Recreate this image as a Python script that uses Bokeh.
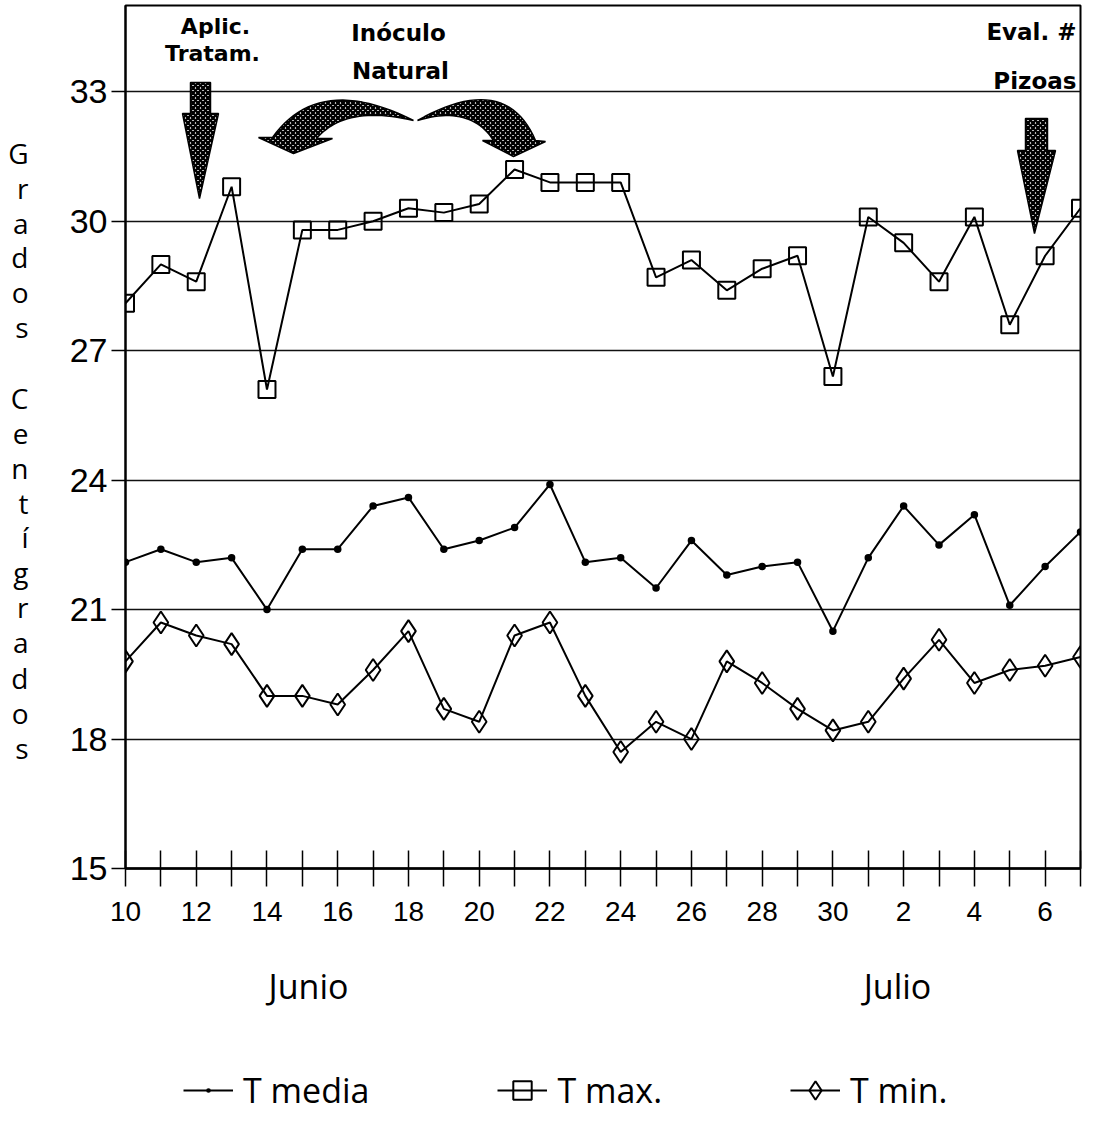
from bokeh.plotting import figure
from bokeh.models import FixedTicker, Label, Legend, LegendItem, Range1d, LinearAxis
from bokeh.layouts import column
from bokeh.embed import file_html
from bokeh.resources import INLINE

# ---------------- data ----------------
day_labels = ["10", "11", "12", "13", "14", "15", "16", "17", "18", "19", "20",
              "21", "22", "23", "24", "25", "26", "27", "28", "29", "30",
              "1", "2", "3", "4", "5", "6", "7"]
t_media = [22.1, 22.4, 22.1, 22.2, 21.0, 22.4, 22.4, 23.4, 23.6, 22.4, 22.6,
           22.9, 23.9, 22.1, 22.2, 21.5, 22.6, 21.8, 22.0, 22.1, 20.5,
           22.2, 23.4, 22.5, 23.2, 21.1, 22.0, 22.8]
t_max = [28.1, 29.0, 28.6, 30.8, 26.1, 29.8, 29.8, 30.0, 30.3, 30.2, 30.4,
         31.2, 30.9, 30.9, 30.9, 28.7, 29.1, 28.4, 28.9, 29.2, 26.4,
         30.1, 29.5, 28.6, 30.1, 27.6, 29.2, 30.3]
t_min = [19.8, 20.7, 20.4, 20.2, 19.0, 19.0, 18.8, 19.6, 20.5, 18.7, 18.4,
         20.4, 20.7, 19.0, 17.7, 18.4, 18.0, 19.8, 19.3, 18.7, 18.2,
         18.4, 19.4, 20.3, 19.3, 19.6, 19.7, 19.9]
y_ticks = [15, 18, 21, 24, 27, 30, 33]
month_labels = ["Junio", "Julio"]
legend_labels = ["T media", "T max.", "T min."]
y_title_words = ["Grados", "Centígrados"]

x = list(range(len(day_labels)))
n_last = len(day_labels) - 1
Y0, Y1 = 15, 35

# ---------------- main figure ----------------
W, H = 1086, 1020
FL, FR, FT, FB = 125.0, 1080.0, 5.0, 868.0   # frame edges in canvas pixels
p = figure(width=W, height=H, output_backend="svg", toolbar_location=None,
           x_range=Range1d(0, n_last), y_range=Range1d(Y0, Y1),
           min_border_left=int(FL), min_border_right=int(W - FR),
           min_border_top=int(FT), min_border_bottom=int(H - FB),
           background_fill_color="white")
p.outline_line_color = "black"
p.outline_line_width = 2

def dx(px):
    return (px - FL) / (FR - FL) * n_last
def dy(py):
    return Y1 - (py - FT) / (FB - FT) * (Y1 - Y0)

p.xgrid.visible = False
p.ygrid.ticker = FixedTicker(ticks=y_ticks[1:])
p.ygrid.grid_line_color = "#111111"
p.ygrid.grid_line_width = 1.5

p.yaxis.ticker = FixedTicker(ticks=y_ticks)
p.yaxis.major_tick_out = 14
p.yaxis.major_tick_in = 0
p.yaxis.minor_tick_out = 0
p.yaxis.minor_tick_in = 0
p.yaxis.major_tick_line_width = 1.5
p.yaxis.axis_line_width = 2
p.yaxis.major_label_standoff = 4
p.yaxis.major_label_text_font = "Liberation Sans"
p.yaxis.major_label_text_font_size = "34px"
p.yaxis.major_label_text_color = "black"

p.xaxis.ticker = FixedTicker(ticks=x)
p.xaxis.major_label_overrides = {i: (lab if i % 2 == 0 else "") for i, lab in enumerate(day_labels)}
p.xaxis.major_tick_in = 18
p.xaxis.major_tick_out = 18
p.xaxis.minor_tick_out = 0
p.xaxis.minor_tick_in = 0
p.xaxis.major_tick_line_width = 1.5
p.xaxis.axis_line_width = 2.5
p.xaxis.major_label_standoff = 15
p.xaxis.major_label_text_font = "Liberation Sans"
p.xaxis.major_label_text_font_size = "28px"
p.xaxis.major_label_text_color = "black"

# stacked-letter y title as an extra (line-less) left axis
letters, letter_py = [], []
py = 152
for word in y_title_words:
    for ch in word:
        letters.append(ch)
        letter_py.append(py)
        py += 35
    py += 35
letter_y = [round(dy(v), 3) for v in letter_py]
title_axis = LinearAxis(ticker=FixedTicker(ticks=letter_y),
                        major_label_overrides={yv: ch for yv, ch in zip(letter_y, letters)},
                        axis_line_alpha=0, major_tick_line_alpha=0, minor_tick_line_alpha=0,
                        major_tick_out=0, major_tick_in=0, minor_tick_out=0, minor_tick_in=0,
                        major_label_standoff=38, major_label_text_font="Open Sans",
                        major_label_text_font_size="28px", major_label_text_color="black")
p.add_layout(title_axis, "left")

# month labels as an extra (line-less) bottom axis
month_x = [round(dx(308), 3), round(dx(897), 3)]
month_axis = LinearAxis(ticker=FixedTicker(ticks=month_x),
                        major_label_overrides={mx: m for mx, m in zip(month_x, month_labels)},
                        axis_line_alpha=0, major_tick_line_alpha=0, minor_tick_line_alpha=0,
                        major_tick_out=0, major_tick_in=0, minor_tick_out=0, minor_tick_in=0,
                        major_label_standoff=39, major_label_text_font="Open Sans",
                        major_label_text_font_size="34px", major_label_text_color="black")
p.add_layout(month_axis, "below")

# series
p.line(x, t_media, line_color="black", line_width=2)
p.scatter(x, t_media, marker="dot", size=30, line_color="black", line_width=1)
p.line(x, t_max, line_color="black", line_width=2)
p.scatter(x, t_max, marker="square", size=17, fill_alpha=0, line_color="black", line_width=2)
p.line(x, t_min, line_color="black", line_width=2)
p.scatter(x, t_min, marker="diamond", size=22, fill_alpha=0, line_color="black", line_width=2)

# hatched arrows
def qbez(p0, c, p2, n=24):
    pts = []
    for i in range(n + 1):
        t = i / n
        a, b, d = (1 - t) ** 2, 2 * (1 - t) * t, t ** 2
        pts.append((a * p0[0] + b * c[0] + d * p2[0], a * p0[1] + b * c[1] + d * p2[1]))
    return pts

def add_arrow(pts):
    p.patch([dx(a) for a, _ in pts], [dy(b) for _, b in pts],
            fill_color="white", hatch_pattern="x", hatch_color="black",
            hatch_scale=5, hatch_weight=2.5, line_color="black", line_width=1.5)

add_arrow([(190, 82), (210, 82), (210, 113), (218, 113), (199, 198), (182, 113), (190, 113)])
add_arrow([(1025, 118), (1047, 118), (1047, 150), (1055, 150), (1034, 233), (1017, 150), (1025, 150)])
left = qbez((413, 120), (318, 72), (272, 137)) + [(258, 137), (293, 153), (332, 138)] + \
    qbez((316, 138), (345, 104), (413, 120))
right = qbez((417, 120), (505, 70), (535, 140)) + [(545, 141), (513, 156), (482, 140)] + \
    qbez((493, 140), (470, 104), (417, 120))
add_arrow(left)
add_arrow(right)

def lab(text, px, py, size, align="center"):
    p.add_layout(Label(x=dx(px), y=dy(py), text=text, text_align=align,
                       text_baseline="middle", text_font_size=size, text_font="DejaVu Sans",
                       text_font_style="bold", text_color="black"))

lab("Aplic.", 215, 26, "22px")
lab("Tratam.", 212, 53, "22px")
lab("Inóculo", 398, 32, "23px")
lab("Natural", 400, 70, "23px")
lab("Eval. #", 1076, 31, "23px", align="right")
lab("Pizoas", 1076, 80, "23px", align="right")

# ---------------- legend strip (own small figure; sample glyphs kept off-view) ----------------
LH = 93
q = figure(width=W, height=LH, output_backend="svg", toolbar_location=None,
           x_axis_type=None, y_axis_type=None,
           x_range=Range1d(-200, -199), y_range=Range1d(0, 1),
           min_border_left=int(FL), min_border_right=int(W - FR),
           min_border_top=0, min_border_bottom=0)
q.outline_line_color = None
q.grid.visible = False
g_med_l = q.line(x, t_media, line_color="black", line_width=2)
g_med_s = q.scatter(x, t_media, marker="dot", size=30, line_color="black", line_width=1)
g_max_l = q.line(x, t_max, line_color="black", line_width=2)
g_max_s = q.scatter(x, t_max, marker="square", size=17, fill_alpha=0, line_color="black", line_width=2)
g_min_l = q.line(x, t_min, line_color="black", line_width=2)
g_min_s = q.scatter(x, t_min, marker="diamond", size=22, fill_alpha=0, line_color="black", line_width=2)

legend = Legend(items=[LegendItem(label=legend_labels[0], renderers=[g_med_l, g_med_s]),
                       LegendItem(label=legend_labels[1], renderers=[g_max_l, g_max_s]),
                       LegendItem(label=legend_labels[2], renderers=[g_min_l, g_min_s])],
                location=(183 - FL, 0), orientation="horizontal",
                padding=0, margin=0, spacing=128, label_standoff=10,
                glyph_width=50, glyph_height=46,
                label_text_font="Open Sans", label_text_font_size="34px",
                label_text_color="black", border_line_alpha=0,
                background_fill_alpha=0)
q.add_layout(legend, "center")

layout = column(p, q, spacing=0)
open("out.html", "w").write(file_html(layout, INLINE))
